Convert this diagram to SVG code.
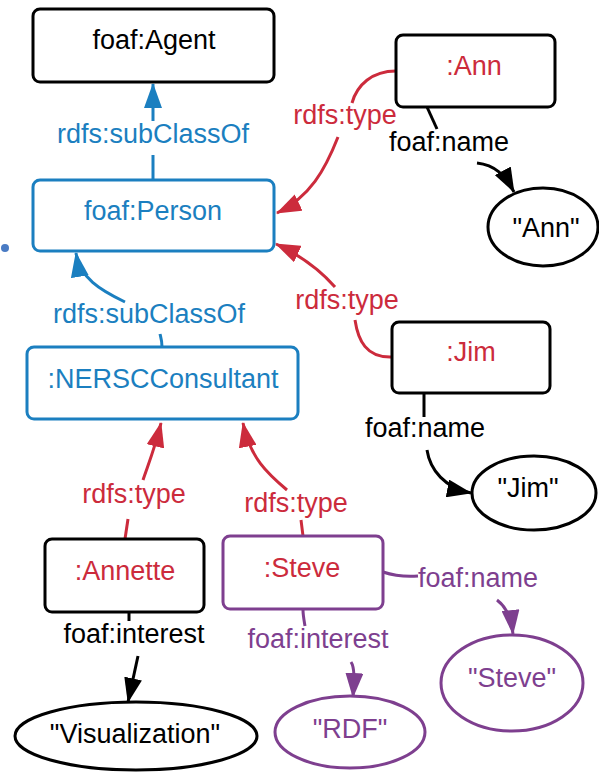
<svg xmlns="http://www.w3.org/2000/svg" width="599" height="776" viewBox="0 0 599 776">
<style>
text{font-family:"Liberation Sans",Arial,sans-serif;font-size:27px;text-anchor:middle}
.box{fill:#fff;stroke-width:3}
.k{stroke:#000}.b{stroke:#1b7fc0}.p{stroke:#7e3f8f}
.e{fill:none;stroke-width:3}
.tk{fill:#000}.tb{fill:#1b7fc0}.tr{fill:#cc2b3c}.tp{fill:#7e3f8f}
</style>
<defs>
<marker id="ak" viewBox="0 0 25 18" refX="24" refY="9" markerWidth="25" markerHeight="18" markerUnits="userSpaceOnUse" orient="auto"><path d="M0,0L25,9L0,18z" fill="#000"/></marker>
<marker id="ab" viewBox="0 0 25 18" refX="24" refY="9" markerWidth="25" markerHeight="18" markerUnits="userSpaceOnUse" orient="auto"><path d="M0,0L25,9L0,18z" fill="#1b7fc0"/></marker>
<marker id="ar" viewBox="0 0 25 18" refX="24" refY="9" markerWidth="25" markerHeight="18" markerUnits="userSpaceOnUse" orient="auto"><path d="M0,0L25,9L0,18z" fill="#cc2b3c"/></marker>
<marker id="ap" viewBox="0 0 25 18" refX="24" refY="9" markerWidth="25" markerHeight="18" markerUnits="userSpaceOnUse" orient="auto"><path d="M0,0L25,9L0,18z" fill="#7e3f8f"/></marker>
</defs>
<rect width="599" height="776" fill="#fff"/>
<circle cx="5" cy="248" r="4" fill="#4a7bc4"/>
<g id="connectors">
<path class="e b" d="M153,180L153,155"/>
<path class="e b" d="M153,121L153,84" marker-end="url(#ab)"/>
<text class="tb" x="153" y="143">rdfs:subClassOf</text>
<path class="e b" d="M162,347C162,341 161,338 160,334"/>
<path class="e b" d="M125,302C100,290 80,278 76,253" marker-end="url(#ab)"/>
<text class="tb" x="149" y="323">rdfs:subClassOf</text>
<path class="e" stroke="#cc2b3c" d="M396,71C372,71 357,85 352,103"/>
<path class="e" stroke="#cc2b3c" d="M338,137C325,170 310,197 277,213" marker-end="url(#ar)"/>
<text class="tr" x="345" y="124">rdfs:type</text>
<path class="e" stroke="#cc2b3c" d="M392,357C366,358 358,340 355,320"/>
<path class="e" stroke="#cc2b3c" d="M335,287C320,270 302,256 276,244" marker-end="url(#ar)"/>
<text class="tr" x="347" y="309">rdfs:type</text>
<path class="e" stroke="#cc2b3c" d="M125,539L128,519"/>
<path class="e" stroke="#cc2b3c" d="M143,480C148,465 155,448 161,423" marker-end="url(#ar)"/>
<text class="tr" x="134" y="503">rdfs:type</text>
<path class="e" stroke="#cc2b3c" d="M303,536L301,520"/>
<path class="e" stroke="#cc2b3c" d="M287,490C268,474 250,458 243,423" marker-end="url(#ar)"/>
<text class="tr" x="296" y="512">rdfs:type</text>
<path class="e k" d="M427,107L437,129"/>
<path class="e k" d="M477,163C495,165 505,175 514,192" marker-end="url(#ak)"/>
<text class="tk" x="449" y="151">foaf:name</text>
<path class="e k" d="M424,394L424,417"/>
<path class="e k" d="M427,450C430,470 445,488 471,493" marker-end="url(#ak)"/>
<text class="tk" x="425" y="437">foaf:name</text>
<path class="e k" d="M129,612L129,621"/>
<path class="e k" d="M138,656L128,702" marker-end="url(#ak)"/>
<text class="tk" x="134" y="643">foaf:interest</text>
<path class="e p" d="M383,572C395,576 405,577 418,576"/>
<path class="e p" d="M497,600C505,606 511,615 513,634" marker-end="url(#ap)"/>
<text class="tp" x="478" y="587">foaf:name</text>
<path class="e p" d="M303,610C303,615 304,620 305,626"/>
<path class="e p" d="M351,662C355,668 354,680 353,697" marker-end="url(#ap)"/>
<text class="tp" x="318" y="648">foaf:interest</text>
</g>
<g id="agent"><rect class="box k" x="33" y="9" width="241" height="73" rx="7"/><text class="tk" x="154" y="49">foaf:Agent</text></g>
<g id="person"><rect class="box b" x="33" y="180" width="241" height="71" rx="7"/><text class="tb" x="153" y="220">foaf:Person</text></g>
<g id="ann"><rect class="box k" x="396" y="35" width="159" height="72" rx="7"/><text class="tr" x="474" y="75">:Ann</text></g>
<g id="annlit"><ellipse class="box k" cx="543" cy="227" rx="55" ry="39"/><text class="tk" x="546" y="237">"Ann"</text></g>
<g id="jim"><rect class="box k" x="392" y="322" width="158" height="71" rx="7"/><text class="tr" x="471" y="361">:Jim</text></g>
<g id="jimlit"><ellipse class="box k" cx="534" cy="493" rx="62" ry="37"/><text class="tk" x="528" y="497">"Jim"</text></g>
<g id="nersc"><rect class="box b" x="27" y="347" width="271" height="72" rx="7"/><text class="tb" x="163" y="388">:NERSCConsultant</text></g>
<g id="annette"><rect class="box k" x="45" y="539" width="159" height="73" rx="7"/><text class="tr" x="125" y="580">:Annette</text></g>
<g id="steve"><rect class="box p" x="223" y="536" width="160" height="73" rx="7"/><text class="tr" x="302" y="577">:Steve</text></g>
<g id="vis"><ellipse class="box k" cx="136" cy="736" rx="121" ry="34"/><text class="tk" x="135" y="743">"Visualization"</text></g>
<g id="rdf"><ellipse class="box p" cx="350" cy="732" rx="75" ry="36"/><text class="tp" x="350" y="738">"RDF"</text></g>
<g id="stevelit"><ellipse class="box p" cx="512" cy="683" rx="71" ry="48"/><text class="tp" x="512" y="687">"Steve"</text></g>
</svg>
